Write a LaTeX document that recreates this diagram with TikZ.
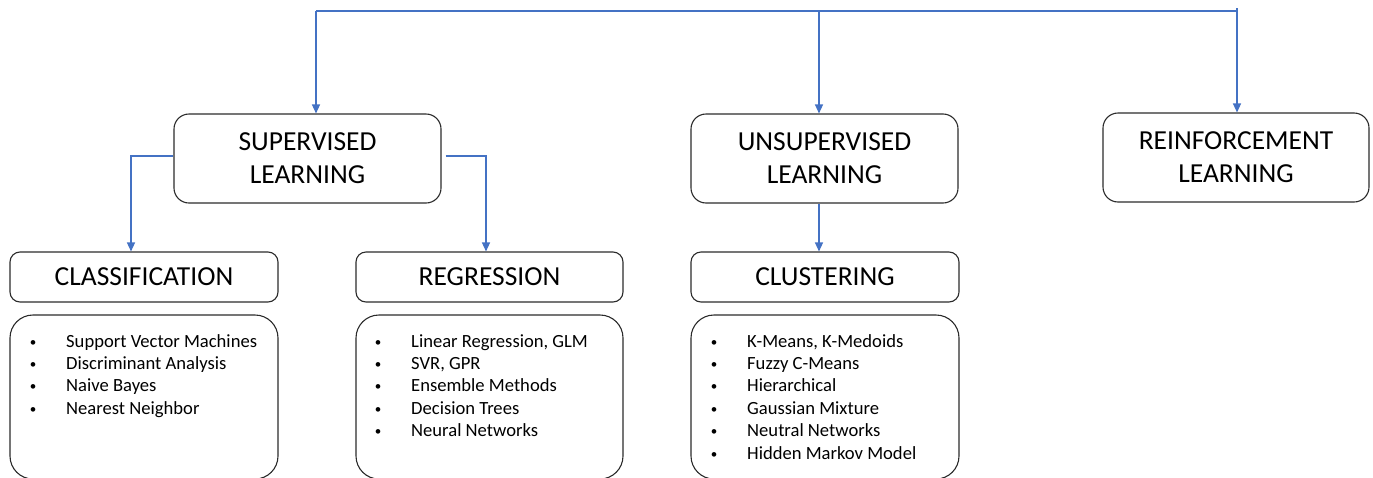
\documentclass[tikz,border=0pt]{standalone}
\usepackage{fontspec}
\setmainfont{Carlito}
\usetikzlibrary{arrows.meta}
\definecolor{arrblue}{HTML}{4472C4}
\definecolor{boxline}{HTML}{2B2B2B}
\newcommand\itembul{\makebox[0pt][c]{\raisebox{1pt}{\scalebox{0.7}{•}}}\hspace{33pt}}
\begin{document}
\begin{tikzpicture}[x=1pt,y=-1pt,
  mainbox/.style={draw=boxline, line width=1.1pt, rounded corners=15pt, align=center,
    font=\fontsize{27.5}{33}\selectfont, inner sep=0pt, minimum height=89pt},
  titlebox/.style={draw=boxline, line width=1.1pt, rounded corners=10pt,
    font=\fontsize{27.5}{33}\selectfont, inner sep=0pt, minimum height=50pt},
  listbox/.style={draw=boxline, line width=1.1pt, rounded corners=23pt, inner sep=0pt,
    minimum height=164pt},
  itemtext/.style={anchor=base west, inner sep=0pt, font=\fontsize{18.6}{22.4}\selectfont},
  link/.style={draw=arrblue, line width=1.3pt},
  arr/.style={link, -{Triangle[width=8pt,length=9pt]}}]
\useasboundingbox (0,0) rectangle (1373,477);
\clip (0,0) rectangle (1373,477);

% top row
\node[mainbox, minimum width=267pt] (sup) at (307.5,158.5) {SUPERVISED\\LEARNING};
\node[mainbox, minimum width=267pt] (unsup) at (824.5,158.5) {UNSUPERVISED\\LEARNING};
\node[mainbox, minimum width=266pt] (reinf) at (1236,157.5) {REINFORCEMENT\\LEARNING};

% second row
\node[titlebox, minimum width=268pt] (cls) at (144,277) {CLASSIFICATION};
\node[titlebox, minimum width=267pt] (reg) at (489.5,277) {REGRESSION};
\node[titlebox, minimum width=268pt] (clu) at (825,277) {CLUSTERING};

% list boxes
\node[listbox, minimum width=268pt] (clsl) at (144,397) {};
\node[listbox, minimum width=267pt] (regl) at (489.5,397) {};
\node[listbox, minimum width=268pt] (clul) at (825,397) {};

% list items
\foreach \t [count=\i] in {Support Vector Machines, Discriminant Analysis, Naive Bayes, Nearest Neighbor}
  \node[itemtext] (ci\i) at (33,{347+22.4*(\i-1)}) {\itembul\t};
\foreach \t [count=\i] in {{Linear Regression, GLM}, {SVR, GPR}, Ensemble Methods, Decision Trees, Neural Networks}
  \node[itemtext] (ri\i) at (378,{347+22.4*(\i-1)}) {\itembul\t};
\foreach \t [count=\i] in {{K-Means, K-Medoids}, Fuzzy C-Means, Hierarchical, Gaussian Mixture, Neutral Networks, Hidden Markov Model}
  \node[itemtext] (ui\i) at (714,{347+22.4*(\i-1)}) {\itembul\t};

% connectors
\coordinate (t1) at (316,11);
\coordinate (t2) at (819,11);
\coordinate (t3) at (1237,11);
\coordinate (t3up) at (1237,8);
\draw[link] (t1) -- (t3);
\draw[arr] (t1) -- (t1 |- sup.north);
\draw[arr] (t2) -- (t2 |- unsup.north);
\draw[arr] (t3up) -- (t3up |- reinf.north);

\coordinate (cl) at (131,156);
\coordinate (rl) at (486,156);
\draw[arr] (sup.west |- cl) -- (cl) -- (cl |- cls.north);
\draw[arr] ([xshift=4pt]sup.east |- rl) -- (rl) -- (rl |- reg.north);
\draw[arr] (unsup.south -| t2) -- (t2 |- clu.north);
\end{tikzpicture}
\end{document}
